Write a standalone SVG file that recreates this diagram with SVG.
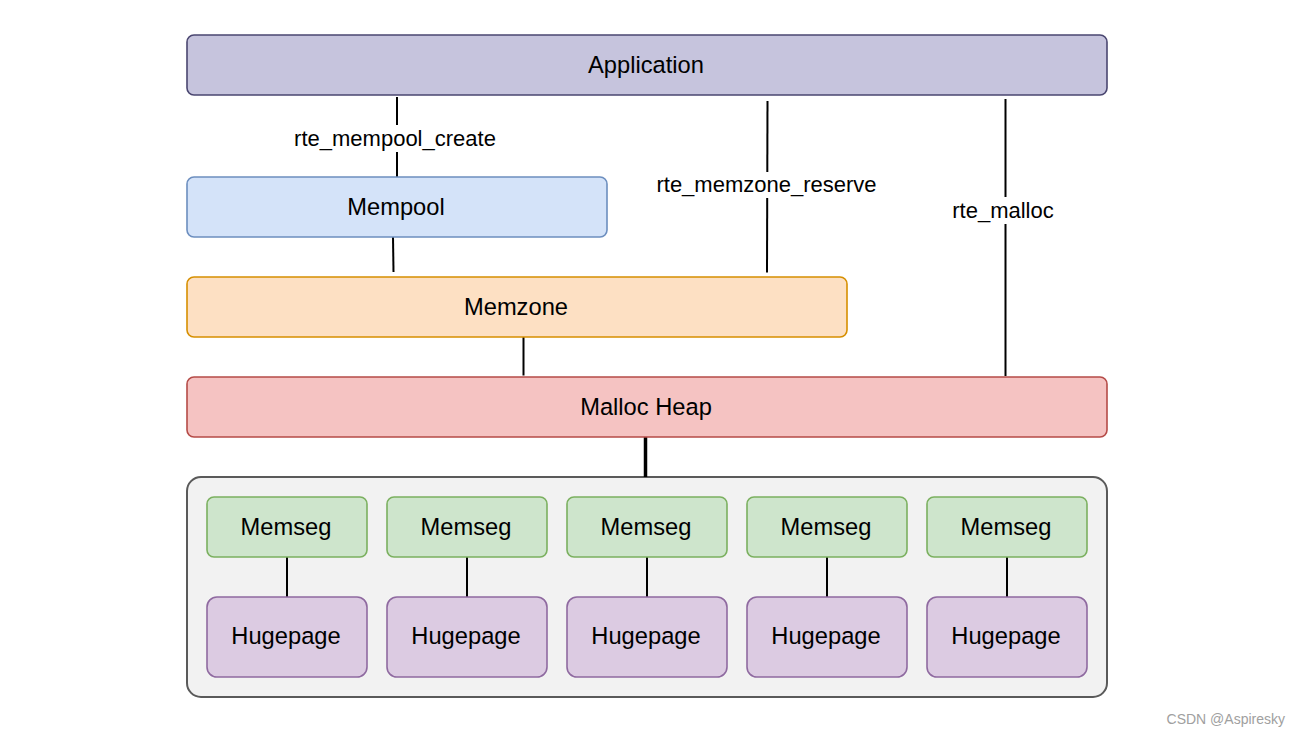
<svg xmlns="http://www.w3.org/2000/svg" width="1300" height="736" viewBox="0 0 1300 736">
<style>
  text { font-family: "Liberation Sans", Arial, Helvetica, sans-serif; fill: #000; }
  .lbl { font-size: 23.7px; text-anchor: middle; }
  .elbl { font-size: 22px; text-anchor: middle; }
  .box { stroke-width: 1.6; }
  .app { fill: #c6c4dd; stroke: #4a4670; }
  .mp { fill: #d4e3f9; stroke: #6c8ebf; }
  .mz { fill: #fde0c3; stroke: #d68f00; }
  .mh { fill: #f5c3c2; stroke: #b54b47; }
  .ms { fill: #cee5cc; stroke: #7bb05f; }
  .hp { fill: #dccbe2; stroke: #8f6aa0; }
  .ct { fill: #f2f2f2; stroke: #5a5a5a; stroke-width: 2; }
  .conn line { stroke: #000; stroke-width: 2; }
  .bg { fill: #fff; }
</style>
<rect width="1300" height="736" fill="#fff"/>

<g id="container"><rect class="ct" x="187" y="477" width="920" height="220" rx="14"/></g>

<g id="conns" class="conn">
  <line x1="397" y1="97" x2="397" y2="177"/>
  <line x1="393" y1="237" x2="393.5" y2="272"/>
  <line x1="767.5" y1="101" x2="767" y2="272.5"/>
  <line x1="1005.5" y1="99" x2="1005.5" y2="376"/>
  <line x1="523.5" y1="337" x2="523.5" y2="375.5"/>
  <line x1="645.5" y1="437" x2="645.5" y2="477" style="stroke-width:3.5"/>
  <line x1="287" y1="557" x2="287" y2="597"/>
  <line x1="467" y1="557" x2="467" y2="597"/>
  <line x1="647" y1="557" x2="647" y2="597"/>
  <line x1="827" y1="557" x2="827" y2="597"/>
  <line x1="1007" y1="557" x2="1007" y2="597"/>
  <rect class="bg" x="292" y="125" width="206" height="27"/>
  <text class="elbl" x="395" y="146">rte_mempool_create</text>
  <rect class="bg" x="654" y="172" width="226" height="26"/>
  <text class="elbl" x="766.5" y="192">rte_memzone_reserve</text>
  <rect class="bg" x="950" y="197" width="106" height="27"/>
  <text class="elbl" x="1003" y="218">rte_malloc</text>
</g>

<g id="application"><rect class="box app" x="187" y="35" width="920" height="60" rx="7"/><text class="lbl" x="646" y="72.5">Application</text></g>
<g id="mempool"><rect class="box mp" x="187" y="177" width="420" height="60" rx="7"/><text class="lbl" x="396" y="215">Mempool</text></g>
<g id="memzone"><rect class="box mz" x="187" y="277" width="660" height="60" rx="7"/><text class="lbl" x="516" y="315">Memzone</text></g>
<g id="mallocheap"><rect class="box mh" x="187" y="377" width="920" height="60" rx="7"/><text class="lbl" x="646" y="414.5">Malloc Heap</text></g>

<g id="memseg1"><rect class="box ms" x="207" y="497" width="160" height="60" rx="7"/><text class="lbl" x="286" y="535">Memseg</text></g>
<g id="memseg2"><rect class="box ms" x="387" y="497" width="160" height="60" rx="7"/><text class="lbl" x="466" y="535">Memseg</text></g>
<g id="memseg3"><rect class="box ms" x="567" y="497" width="160" height="60" rx="7"/><text class="lbl" x="646" y="535">Memseg</text></g>
<g id="memseg4"><rect class="box ms" x="747" y="497" width="160" height="60" rx="7"/><text class="lbl" x="826" y="535">Memseg</text></g>
<g id="memseg5"><rect class="box ms" x="927" y="497" width="160" height="60" rx="7"/><text class="lbl" x="1006" y="535">Memseg</text></g>

<g id="hugepage1"><rect class="box hp" x="207" y="597" width="160" height="80" rx="10"/><text class="lbl" x="286" y="644">Hugepage</text></g>
<g id="hugepage2"><rect class="box hp" x="387" y="597" width="160" height="80" rx="10"/><text class="lbl" x="466" y="644">Hugepage</text></g>
<g id="hugepage3"><rect class="box hp" x="567" y="597" width="160" height="80" rx="10"/><text class="lbl" x="646" y="644">Hugepage</text></g>
<g id="hugepage4"><rect class="box hp" x="747" y="597" width="160" height="80" rx="10"/><text class="lbl" x="826" y="644">Hugepage</text></g>
<g id="hugepage5"><rect class="box hp" x="927" y="597" width="160" height="80" rx="10"/><text class="lbl" x="1006" y="644">Hugepage</text></g>

<text x="1285" y="724" style="font-size:14px; fill:#a0a0a0; text-anchor:end">CSDN @Aspiresky</text>
</svg>
